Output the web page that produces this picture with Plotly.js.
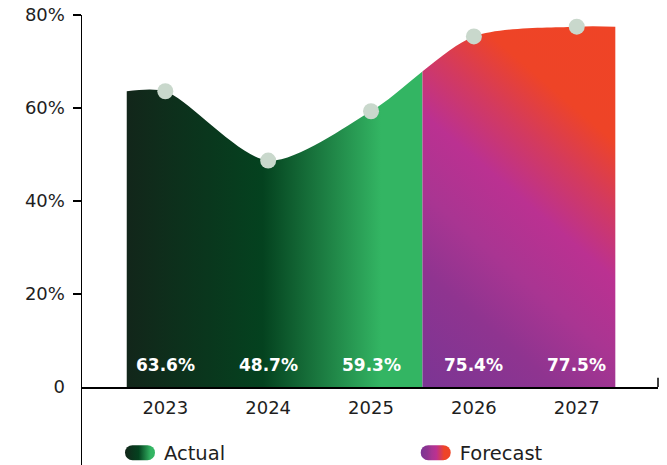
<!DOCTYPE html>
<html>
<head>
<meta charset="utf-8">
<script src="https://cdn.plot.ly/plotly-3.0.1.min.js"></script>
<style>
  html, body { margin: 0; padding: 0; background: #ffffff; }
  #chart { width: 667px; height: 465px; }
</style>
</head>
<body>
<div id="chart"></div>
<script>
// ---- data ----
const years = ['2023', '2024', '2025', '2026', '2027'];
const shares = [63.6, 48.7, 59.3, 75.4, 77.5];
const seriesNames = ['Actual', 'Forecast'];
const forecastFrom = 3;               // index of first forecast year
const yTickVals = [0, 20, 40, 60, 80];
const yTickText = ['0', '20%', '40%', '60%', '80%'];

// ---- styling ----
const FONT = 'DejaVu Sans';
const TEXT = '#1e1e1e';
const PAD = 0.375;                    // how far the area runs past the first/last year
const X_MIN = -0.81, X_MAX = 4.79, Y_MIN = -16.77, Y_MAX = 80;
const SMOOTH = 0.8;
const actualScale = [[0, '#12261a'], [0.46, '#04421f'], [0.86, '#33b563'], [1, '#33b563']];
const forecastScale = [[0, '#7b3594'], [0.22, '#8f3490'], [0.37, '#a93592'], [0.52, '#bb3191'],
                       [0.65, '#d33a5f'], [0.78, '#ee4427'], [1, '#ef4426']];
const MARKER = '#c9d8cc';

const idx = years.map((_, i) => i);
const last = idx.length - 1;
const boundary = forecastFrom - 0.5;
const xs = [idx[0] - PAD, ...idx, idx[last] + PAD];
const ys = [shares[0], ...shares, shares[last]];
const split = (boundary - X_MIN) / (X_MAX - X_MIN);
const axisPos = -Y_MIN / (Y_MAX - Y_MIN);

const areaBase = {
  x: xs, y: ys, type: 'scatter', mode: 'lines', fill: 'tozeroy',
  line: { width: 0, shape: 'spline', smoothing: SMOOTH, color: 'rgba(0,0,0,0)' },
  hoverinfo: 'skip'
};

const data = [
  Object.assign({}, areaBase, {
    name: seriesNames[0], uid: 'act', xaxis: 'x', yaxis: 'y', legend: 'legend',
    fillgradient: { type: 'horizontal', start: xs[0], stop: boundary, colorscale: actualScale }
  }),
  Object.assign({}, areaBase, {
    name: seriesNames[1], uid: 'fc', xaxis: 'x2', yaxis: 'y', legend: 'legend2',
    fillgradient: { type: 'horizontal', colorscale: forecastScale }
  }),
  {
    x: idx.slice(0, forecastFrom), y: shares.slice(0, forecastFrom),
    xaxis: 'x', yaxis: 'y', type: 'scatter', mode: 'markers', showlegend: false,
    cliponaxis: false, marker: { size: 16, color: MARKER }, hoverinfo: 'skip'
  },
  {
    x: idx.slice(forecastFrom), y: shares.slice(forecastFrom),
    xaxis: 'x2', yaxis: 'y', type: 'scatter', mode: 'markers', showlegend: false,
    cliponaxis: false, marker: { size: 16, color: MARKER }, hoverinfo: 'skip'
  }
];

const xCommon = {
  type: 'linear', anchor: 'free', position: axisPos,
  showline: true, linecolor: '#000', linewidth: 1.5,
  ticks: '', showgrid: false, zeroline: false, ticklabelstandoff: 4,
  tickfont: { family: FONT, size: 18, color: TEXT }, fixedrange: true
};

const annotations = shares.map((v, i) => ({
  xref: i < forecastFrom ? 'x' : 'x2', yref: 'y', x: i, y: 0,
  yanchor: 'middle', yshift: 22, showarrow: false,
  text: v.toFixed(1) + '%',
  font: { family: FONT, size: 17, color: '#ffffff', weight: 700 }
}));

const legendCommon = {
  orientation: 'h', xref: 'paper', yref: 'container', xanchor: 'left',
  y: 0.0258, yanchor: 'middle',
  font: { family: FONT, size: 19.5, color: TEXT }, bgcolor: 'rgba(0,0,0,0)', borderwidth: 0
};

const layout = {
  width: 667, height: 465,
  margin: { l: 82, r: 9, t: 15, b: 0, autoexpand: false },
  paper_bgcolor: '#ffffff', plot_bgcolor: 'rgba(0,0,0,0)',
  xaxis: Object.assign({}, xCommon, {
    domain: [0, split], range: [X_MIN, boundary],
    tickvals: idx.slice(0, forecastFrom), ticktext: years.slice(0, forecastFrom)
  }),
  xaxis2: Object.assign({}, xCommon, {
    domain: [split, 1], range: [boundary, X_MAX],
    tickvals: idx.slice(forecastFrom), ticktext: years.slice(forecastFrom)
  }),
  yaxis: {
    range: [Y_MIN, Y_MAX], anchor: 'x', showline: true, linecolor: '#000', linewidth: 1.5,
    ticks: 'outside', ticklen: 8, tickwidth: 1.5, tickcolor: '#000',
    tickvals: yTickVals, ticktext: yTickText, ticklabelstandoff: 4,
    tickfont: { family: FONT, size: 18, color: TEXT },
    showgrid: false, zeroline: false, fixedrange: true
  },
  shapes: [{
    type: 'line', xref: 'x2 domain', yref: 'y', x0: 1, x1: 1, y0: 0, y1: 2,
    line: { color: '#000', width: 1.5 }
  }],
  annotations: annotations,
  showlegend: true,
  legend: Object.assign({}, legendCommon, { x: 0.0729 }),
  legend2: Object.assign({}, legendCommon, { x: 0.5863 })
};

const gd = document.getElementById('chart');
Plotly.newPlot(gd, data, layout, { staticPlot: true, displayModeBar: false }).then(() => {
  const fl = gd._fullLayout;
  const xa2 = fl.xaxis2, ya = fl.yaxis;
  // diagonal direction of the forecast gradient (bottom-left -> top-right)
  const dx = 166, dy = -193, L = Math.hypot(dx, dy);
  const nx = dx / L, ny = dy / L;
  const blx = xa2.l2p(boundary), bly = ya.l2p(0);
  const trx = xa2.l2p(xs[xs.length - 1]);
  const trY = ya.l2p(Math.max(...shares.slice(forecastFrom)));
  const len = (trx - blx) * nx + (trY - bly) * ny;
  gd.querySelectorAll('linearGradient').forEach(g => {
    const id = g.getAttribute('id') || '';
    if (id.indexOf('fc') >= 0 && id.indexOf('legend') < 0) {
      g.setAttribute('gradientUnits', 'userSpaceOnUse');
      g.setAttribute('x2', blx); g.setAttribute('y2', bly);
      g.setAttribute('x1', blx + nx * len); g.setAttribute('y1', bly + ny * len);
    }
  });
  // no tick mark at the zero label (the x axis line starts there)
  gd.querySelectorAll('path.ytick').forEach(p => {
    if (p.__data__ && p.__data__.x === 0) p.style.strokeOpacity = 0;
  });
  // pill-shaped legend symbols
  gd.querySelectorAll('.legendfill path').forEach(p => {
    p.setAttribute('d', 'M8.5,-7.5H23.5A7.5,7.5 0 0 1 23.5,7.5H8.5A7.5,7.5 0 0 1 8.5,-7.5Z');
  });
  gd.querySelectorAll('.legendlines path').forEach(p => p.setAttribute('d', ''));
});
</script>
</body>
</html>
